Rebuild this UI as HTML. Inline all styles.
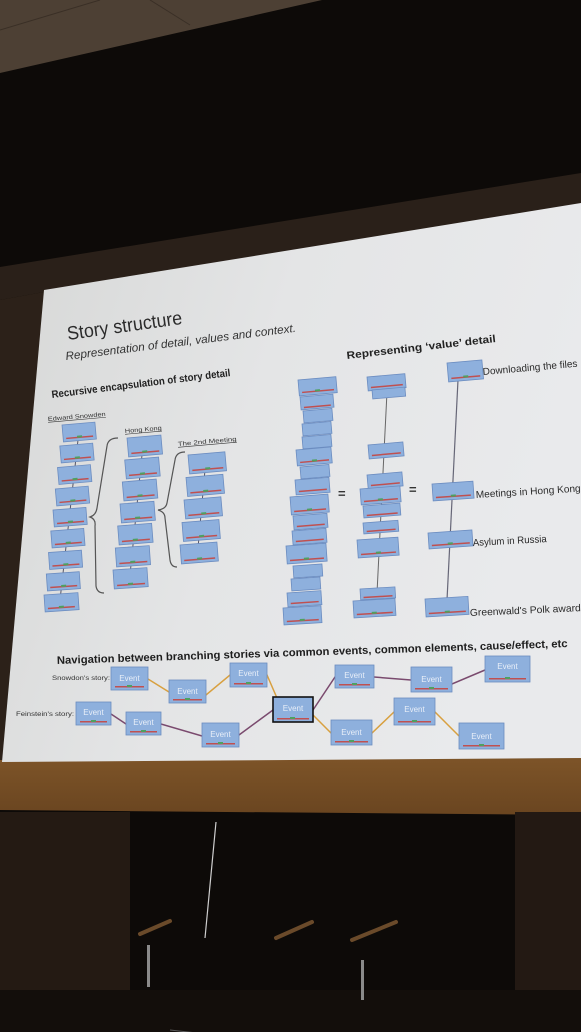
<!DOCTYPE html>
<html><head><meta charset="utf-8"><style>
html,body{margin:0;padding:0;background:#0c0a08;}
svg{display:block;}
text{font-family:"Liberation Sans",sans-serif;}
.b rect.m{fill:#8eb0dd;stroke:#6b8cc0;stroke-width:0.8;}
.b rect.r{fill:#c05050;}
.b rect.g{fill:#4fa060;}
</style></head><body>
<svg width="581" height="1032" viewBox="0 0 581 1032" xmlns="http://www.w3.org/2000/svg">
<defs>
<linearGradient id="sl" x1="0" y1="0" x2="1" y2="0.3">
<stop offset="0" stop-color="#d6d7d6"/><stop offset="0.5" stop-color="#e4e5e6"/><stop offset="1" stop-color="#e9eaec"/>
</linearGradient>
<linearGradient id="fr" x1="0" y1="0" x2="0" y2="1">
<stop offset="0" stop-color="#7d5428"/><stop offset="1" stop-color="#6a4520"/>
</linearGradient>
</defs>
<!-- background -->
<rect width="581" height="1032" fill="#0d0a08"/>
<polygon points="0,0 322,0 0,73" fill="#4d4034"/>
<line x1="100" y1="0" x2="0" y2="30" stroke="#3a2f26" stroke-width="1"/>
<line x1="150" y1="0" x2="190" y2="25" stroke="#3a2f26" stroke-width="1"/>
<polygon points="0,267 581,173 581,205 44,292 0,300" fill="#2a2019"/>
<polygon points="0,300 44,292 2,762 0,762" fill="#2c2119"/>
<!-- frame under slide -->
<polygon points="0,760 581,758 581,815 0,810" fill="url(#fr)"/>
<!-- lower stage -->
<rect x="0" y="812" width="130" height="180" fill="#241a13"/>
<rect x="515" y="812" width="66" height="200" fill="#231913"/>
<rect x="0" y="990" width="581" height="42" fill="#130e0b"/>
<line x1="216" y1="822" x2="205" y2="938" stroke="#cfcfcf" stroke-width="1.2"/>
<g stroke="#6a4a2a" stroke-width="4" stroke-linecap="round">
<line x1="140" y1="934" x2="170" y2="921"/><line x1="276" y1="938" x2="312" y2="922"/><line x1="352" y1="940" x2="396" y2="922"/>
</g>
<g fill="#8a8a8a"><rect x="147" y="945" width="3" height="42"/><rect x="361" y="960" width="3" height="40"/></g>
<line x1="170" y1="1030" x2="305" y2="1045" stroke="#5a5a5a" stroke-width="1"/>
<!-- slide -->
<polygon points="44,290 581,203 581,758 2,762" fill="url(#sl)"/>

<!-- titles -->
<text x="68" y="340" font-size="19" fill="#2b2b2b" textLength="116" lengthAdjust="spacingAndGlyphs" transform="rotate(-8 68 340)">Story structure</text>
<text x="66" y="360" font-size="11.5" font-style="italic" fill="#333" textLength="232" lengthAdjust="spacingAndGlyphs" transform="rotate(-7 66 360)">Representation of detail, values and context.</text>
<text x="52" y="398" font-size="10.5" font-weight="bold" fill="#222" textLength="180" lengthAdjust="spacingAndGlyphs" transform="rotate(-7 52 398)">Recursive encapsulation of story detail</text>
<text x="347" y="359" font-size="10.5" font-weight="bold" fill="#222" textLength="150" lengthAdjust="spacingAndGlyphs" transform="rotate(-6.5 347 359)">Representing ‘value’ detail</text>
<g font-size="6" fill="#333" text-decoration="underline">
<text x="48" y="421" textLength="58" lengthAdjust="spacingAndGlyphs" transform="rotate(-5 48 421)">Edward Snowden</text>
<text x="125" y="433" textLength="37" lengthAdjust="spacingAndGlyphs" transform="rotate(-5 125 433)">Hong Kong</text>
<text x="178" y="446" textLength="59" lengthAdjust="spacingAndGlyphs" transform="rotate(-5 178 446)">The 2nd Meeting</text>
</g>

<!-- left columns connectors -->
<g stroke="#556" stroke-width="1">
<line x1="78" y1="440" x2="60" y2="600"/>
<line x1="142" y1="455" x2="130" y2="575"/>
<line x1="205" y1="470" x2="198" y2="548"/>
</g>
<!-- brackets -->
<g fill="none" stroke="#555" stroke-width="1.2">
<path d="M118,438 Q108,438 107,446 L97,508 Q96,515 90,517 Q96,519 95,526 L96,586 Q97,593 104,593"/>
<path d="M185,452 Q176,452 175,460 L167,503 Q166,509 158,510 Q165,512 165,518 L170,560 Q171,567 177,567"/>
</g>

<!-- boxes macro: each g translate+rotate -->
<g class="b">
<!-- column 1 -->
<g transform="translate(62,425) rotate(-5)"><rect class="m" width="33" height="17"/><rect class="r" x="3" y="13" width="27" height="1.5"/><rect class="g" x="14" y="12" width="5" height="2"/></g>
<g transform="translate(59.8,446) rotate(-5)"><rect class="m" width="33" height="17"/><rect class="r" x="3" y="13" width="27" height="1.5"/><rect class="g" x="14" y="12" width="5" height="2"/></g>
<g transform="translate(57.5,467.5) rotate(-5)"><rect class="m" width="33" height="17"/><rect class="r" x="3" y="13" width="27" height="1.5"/><rect class="g" x="14" y="12" width="5" height="2"/></g>
<g transform="translate(55.3,489) rotate(-5)"><rect class="m" width="33" height="17"/><rect class="r" x="3" y="13" width="27" height="1.5"/><rect class="g" x="14" y="12" width="5" height="2"/></g>
<g transform="translate(53,510) rotate(-4.5)"><rect class="m" width="33" height="17"/><rect class="r" x="3" y="13" width="27" height="1.5"/><rect class="g" x="14" y="12" width="5" height="2"/></g>
<g transform="translate(50.8,531) rotate(-4.5)"><rect class="m" width="33" height="17"/><rect class="r" x="3" y="13" width="27" height="1.5"/><rect class="g" x="14" y="12" width="5" height="2"/></g>
<g transform="translate(48.5,552.5) rotate(-4)"><rect class="m" width="33" height="17"/><rect class="r" x="3" y="13" width="27" height="1.5"/><rect class="g" x="14" y="12" width="5" height="2"/></g>
<g transform="translate(46.3,574) rotate(-4)"><rect class="m" width="33" height="17"/><rect class="r" x="3" y="13" width="27" height="1.5"/><rect class="g" x="14" y="12" width="5" height="2"/></g>
<g transform="translate(44,595) rotate(-4)"><rect class="m" width="34" height="17"/><rect class="r" x="3" y="13" width="27" height="1.5"/><rect class="g" x="14" y="12" width="5" height="2"/></g>
<!-- column 2 -->
<g transform="translate(127,438) rotate(-5)"><rect class="m" width="34" height="19"/><rect class="r" x="3" y="15" width="28" height="1.5"/><rect class="g" x="14" y="14" width="5" height="2"/></g>
<g transform="translate(124.7,460) rotate(-5)"><rect class="m" width="34" height="19"/><rect class="r" x="3" y="15" width="28" height="1.5"/><rect class="g" x="14" y="14" width="5" height="2"/></g>
<g transform="translate(122.3,482) rotate(-5)"><rect class="m" width="34" height="19"/><rect class="r" x="3" y="15" width="28" height="1.5"/><rect class="g" x="14" y="14" width="5" height="2"/></g>
<g transform="translate(120,504) rotate(-4.5)"><rect class="m" width="34" height="19"/><rect class="r" x="3" y="15" width="28" height="1.5"/><rect class="g" x="14" y="14" width="5" height="2"/></g>
<g transform="translate(117.7,526) rotate(-4.5)"><rect class="m" width="34" height="19"/><rect class="r" x="3" y="15" width="28" height="1.5"/><rect class="g" x="14" y="14" width="5" height="2"/></g>
<g transform="translate(115.3,548) rotate(-4)"><rect class="m" width="34" height="19"/><rect class="r" x="3" y="15" width="28" height="1.5"/><rect class="g" x="14" y="14" width="5" height="2"/></g>
<g transform="translate(113,570) rotate(-4)"><rect class="m" width="34" height="19"/><rect class="r" x="3" y="15" width="28" height="1.5"/><rect class="g" x="14" y="14" width="5" height="2"/></g>
<!-- column 3 -->
<g transform="translate(188,455) rotate(-5)"><rect class="m" width="37" height="19"/><rect class="r" x="3" y="15" width="31" height="1.5"/><rect class="g" x="16" y="14" width="5" height="2"/></g>
<g transform="translate(186,477.5) rotate(-5)"><rect class="m" width="37" height="19"/><rect class="r" x="3" y="15" width="31" height="1.5"/><rect class="g" x="16" y="14" width="5" height="2"/></g>
<g transform="translate(184,500) rotate(-5)"><rect class="m" width="37" height="19"/><rect class="r" x="3" y="15" width="31" height="1.5"/><rect class="g" x="16" y="14" width="5" height="2"/></g>
<g transform="translate(182,522.5) rotate(-4.5)"><rect class="m" width="37" height="19"/><rect class="r" x="3" y="15" width="31" height="1.5"/><rect class="g" x="16" y="14" width="5" height="2"/></g>
<g transform="translate(180,545) rotate(-4.5)"><rect class="m" width="37" height="19"/><rect class="r" x="3" y="15" width="31" height="1.5"/><rect class="g" x="16" y="14" width="5" height="2"/></g>

<!-- column A -->
<g transform="translate(298,380) rotate(-5)"><rect class="m" width="38" height="16"/><rect class="r" x="3" y="12" width="32" height="1.5"/><rect class="g" x="16" y="11" width="5" height="2"/></g>
<g transform="translate(300,397) rotate(-5)"><rect class="m" width="33" height="13"/><rect class="r" x="3" y="10" width="27" height="1.5"/></g>
<g transform="translate(303,411) rotate(-5)"><rect class="m" width="29" height="12"/></g>
<g transform="translate(302,424) rotate(-5)"><rect class="m" width="29" height="12"/></g>
<g transform="translate(302,437) rotate(-5)"><rect class="m" width="29" height="12"/></g>
<g transform="translate(296,450) rotate(-5)"><rect class="m" width="35" height="16"/><rect class="r" x="3" y="12" width="29" height="1.5"/><rect class="g" x="15" y="11" width="5" height="2"/></g>
<g transform="translate(300,467) rotate(-5)"><rect class="m" width="29" height="12"/></g>
<g transform="translate(295,480) rotate(-4.5)"><rect class="m" width="34" height="15"/><rect class="r" x="3" y="11" width="28" height="1.5"/></g>
<g transform="translate(290,497) rotate(-4.5)"><rect class="m" width="38" height="18"/><rect class="r" x="3" y="14" width="32" height="1.5"/><rect class="g" x="16" y="13" width="5" height="2"/></g>
<g transform="translate(293,516) rotate(-4.5)"><rect class="m" width="34" height="14"/><rect class="r" x="3" y="10" width="28" height="1.5"/></g>
<g transform="translate(292,531) rotate(-4.5)"><rect class="m" width="34" height="14"/><rect class="r" x="3" y="10" width="28" height="1.5"/></g>
<g transform="translate(286,546) rotate(-4)"><rect class="m" width="40" height="18"/><rect class="r" x="3" y="14" width="34" height="1.5"/><rect class="g" x="17" y="13" width="5" height="2"/></g>
<g transform="translate(293,566) rotate(-4)"><rect class="m" width="29" height="12"/></g>
<g transform="translate(291,579) rotate(-4)"><rect class="m" width="29" height="12"/></g>
<g transform="translate(287,593) rotate(-4)"><rect class="m" width="34" height="14"/><rect class="r" x="3" y="10" width="28" height="1.5"/></g>
<g transform="translate(283,608) rotate(-3.5)"><rect class="m" width="38" height="17"/><rect class="r" x="3" y="13" width="32" height="1.5"/><rect class="g" x="16" y="12" width="5" height="2"/></g>
</g>

<!-- column B line -->
<line x1="387" y1="392" x2="377" y2="593" stroke="#666" stroke-width="1"/>
<line x1="458" y1="380" x2="447" y2="600" stroke="#667" stroke-width="1.2"/>
<g class="b">
<g transform="translate(367,377) rotate(-5)"><rect class="m" width="38" height="14"/><rect class="r" x="3" y="10" width="32" height="1.5"/></g>
<g transform="translate(372,390) rotate(-5)"><rect class="m" width="33" height="9"/></g>
<g transform="translate(368,445) rotate(-5)"><rect class="m" width="35" height="14"/><rect class="r" x="3" y="10" width="29" height="1.5"/></g>
<g transform="translate(367,475) rotate(-5)"><rect class="m" width="35" height="14"/><rect class="r" x="3" y="10" width="29" height="1.5"/></g>
<g transform="translate(360,489) rotate(-4.5)"><rect class="m" width="40" height="16"/><rect class="r" x="3" y="12" width="34" height="1.5"/><rect class="g" x="17" y="11" width="5" height="2"/></g>
<g transform="translate(363,506) rotate(-4.5)"><rect class="m" width="37" height="12"/><rect class="r" x="3" y="9" width="31" height="1.5"/></g>
<g transform="translate(363,523) rotate(-4.5)"><rect class="m" width="35" height="11"/><rect class="r" x="3" y="8" width="29" height="1.5"/></g>
<g transform="translate(357,540) rotate(-4)"><rect class="m" width="41" height="18"/><rect class="r" x="3" y="14" width="35" height="1.5"/><rect class="g" x="18" y="13" width="5" height="2"/></g>
<g transform="translate(360,589) rotate(-3.5)"><rect class="m" width="35" height="11"/><rect class="r" x="3" y="8" width="29" height="1.5"/></g>
<g transform="translate(353,601) rotate(-3.5)"><rect class="m" width="42" height="17"/><rect class="r" x="3" y="13" width="36" height="1.5"/><rect class="g" x="18" y="12" width="5" height="2"/></g>
<!-- column C -->
<g transform="translate(447,363) rotate(-5)"><rect class="m" width="35" height="19"/><rect class="r" x="3" y="15" width="29" height="1.5"/><rect class="g" x="15" y="14" width="5" height="2"/></g>
<g transform="translate(432,484) rotate(-4)"><rect class="m" width="41" height="17"/><rect class="r" x="3" y="13" width="35" height="1.5"/><rect class="g" x="18" y="12" width="5" height="2"/></g>
<g transform="translate(428,533) rotate(-4)"><rect class="m" width="44" height="16"/><rect class="r" x="3" y="12" width="38" height="1.5"/><rect class="g" x="19" y="11" width="5" height="2"/></g>
<g transform="translate(425,599) rotate(-3.5)"><rect class="m" width="43" height="18"/><rect class="r" x="3" y="14" width="37" height="1.5"/><rect class="g" x="19" y="13" width="5" height="2"/></g>
</g>
<g font-size="10" fill="#2a2a2a">
<text x="483" y="375" textLength="95" lengthAdjust="spacingAndGlyphs" transform="rotate(-5 483 375)">Downloading the files</text>
<text x="476" y="498" textLength="105" lengthAdjust="spacingAndGlyphs" transform="rotate(-3.5 476 498)">Meetings in Hong Kong</text>
<text x="473" y="546" textLength="74" lengthAdjust="spacingAndGlyphs" transform="rotate(-3 473 546)">Asylum in Russia</text>
<text x="470" y="616" textLength="111" lengthAdjust="spacingAndGlyphs" transform="rotate(-2.5 470 616)">Greenwald's Polk award</text>
</g>
<text x="338" y="498" font-size="13" font-weight="bold" fill="#333">=</text>
<text x="409" y="494" font-size="13" font-weight="bold" fill="#333">=</text>

<!-- navigation -->
<text x="57" y="664" font-size="11" font-weight="bold" fill="#1e1e1e" textLength="511" lengthAdjust="spacingAndGlyphs" transform="rotate(-1.9 57 664)">Navigation between branching stories via common events, common elements, cause/effect, etc</text>
<text x="52" y="680" font-size="6.5" fill="#333" textLength="58" lengthAdjust="spacingAndGlyphs">Snowdon's story:</text>
<text x="16" y="716" font-size="6.5" fill="#333" textLength="58" lengthAdjust="spacingAndGlyphs">Feinstein's story:</text>
<g stroke-width="1.5" fill="none">
<polyline points="148,679 169,692 206,695 230,675 267,675 280,705" stroke="#d8a040"/>
<polyline points="313,710 335,677 374,677 411,680 452,684 485,670" stroke="#7a4a6e"/>
<polyline points="111,714 126,724 161,724 202,736 239,735 273,710" stroke="#7a4a6e"/>
<polyline points="313,715 331,733 372,733 394,712 435,712 459,736" stroke="#d8a040"/>
</g>
<g class="b" font-size="8" fill="#e8eef8" text-anchor="middle">
<g transform="translate(111,667)"><rect class="m" width="37" height="23"/><rect class="r" x="4" y="19" width="29" height="1.5"/><rect class="g" x="16" y="18" width="5" height="2"/><text x="18.5" y="14">Event</text></g>
<g transform="translate(169,680)"><rect class="m" width="37" height="23"/><rect class="r" x="4" y="19" width="29" height="1.5"/><rect class="g" x="16" y="18" width="5" height="2"/><text x="18.5" y="14">Event</text></g>
<g transform="translate(230,663)"><rect class="m" width="37" height="24"/><rect class="r" x="4" y="20" width="29" height="1.5"/><rect class="g" x="16" y="19" width="5" height="2"/><text x="18.5" y="13">Event</text></g>
<g transform="translate(335,665)"><rect class="m" width="39" height="23"/><rect class="r" x="4" y="19" width="31" height="1.5"/><rect class="g" x="17" y="18" width="5" height="2"/><text x="19.5" y="13">Event</text></g>
<g transform="translate(411,667)"><rect class="m" width="41" height="25"/><rect class="r" x="4" y="21" width="33" height="1.5"/><rect class="g" x="18" y="20" width="5" height="2"/><text x="20.5" y="15">Event</text></g>
<g transform="translate(485,656)"><rect class="m" width="45" height="26"/><rect class="r" x="4" y="22" width="37" height="1.5"/><rect class="g" x="20" y="21" width="5" height="2"/><text x="22.5" y="13">Event</text></g>
<g transform="translate(76,702)"><rect class="m" width="35" height="23"/><rect class="r" x="4" y="19" width="27" height="1.5"/><rect class="g" x="15" y="18" width="5" height="2"/><text x="17.5" y="13">Event</text></g>
<g transform="translate(126,712)"><rect class="m" width="35" height="23"/><rect class="r" x="4" y="19" width="27" height="1.5"/><rect class="g" x="15" y="18" width="5" height="2"/><text x="17.5" y="13">Event</text></g>
<g transform="translate(202,723)"><rect class="m" width="37" height="24"/><rect class="r" x="4" y="20" width="29" height="1.5"/><rect class="g" x="16" y="19" width="5" height="2"/><text x="18.5" y="14">Event</text></g>
<g transform="translate(273,697)"><rect class="m" width="40" height="25" style="stroke:#111;stroke-width:1.6"/><rect class="r" x="4" y="21" width="32" height="1.5"/><rect class="g" x="17" y="20" width="5" height="2"/><text x="20" y="14">Event</text></g>
<g transform="translate(331,720)"><rect class="m" width="41" height="25"/><rect class="r" x="4" y="21" width="33" height="1.5"/><rect class="g" x="18" y="20" width="5" height="2"/><text x="20.5" y="15">Event</text></g>
<g transform="translate(394,698)"><rect class="m" width="41" height="27"/><rect class="r" x="4" y="23" width="33" height="1.5"/><rect class="g" x="18" y="22" width="5" height="2"/><text x="20.5" y="14">Event</text></g>
<g transform="translate(459,723)"><rect class="m" width="45" height="26"/><rect class="r" x="4" y="22" width="37" height="1.5"/><rect class="g" x="20" y="21" width="5" height="2"/><text x="22.5" y="16">Event</text></g>
</g>
</svg>
</body></html>
